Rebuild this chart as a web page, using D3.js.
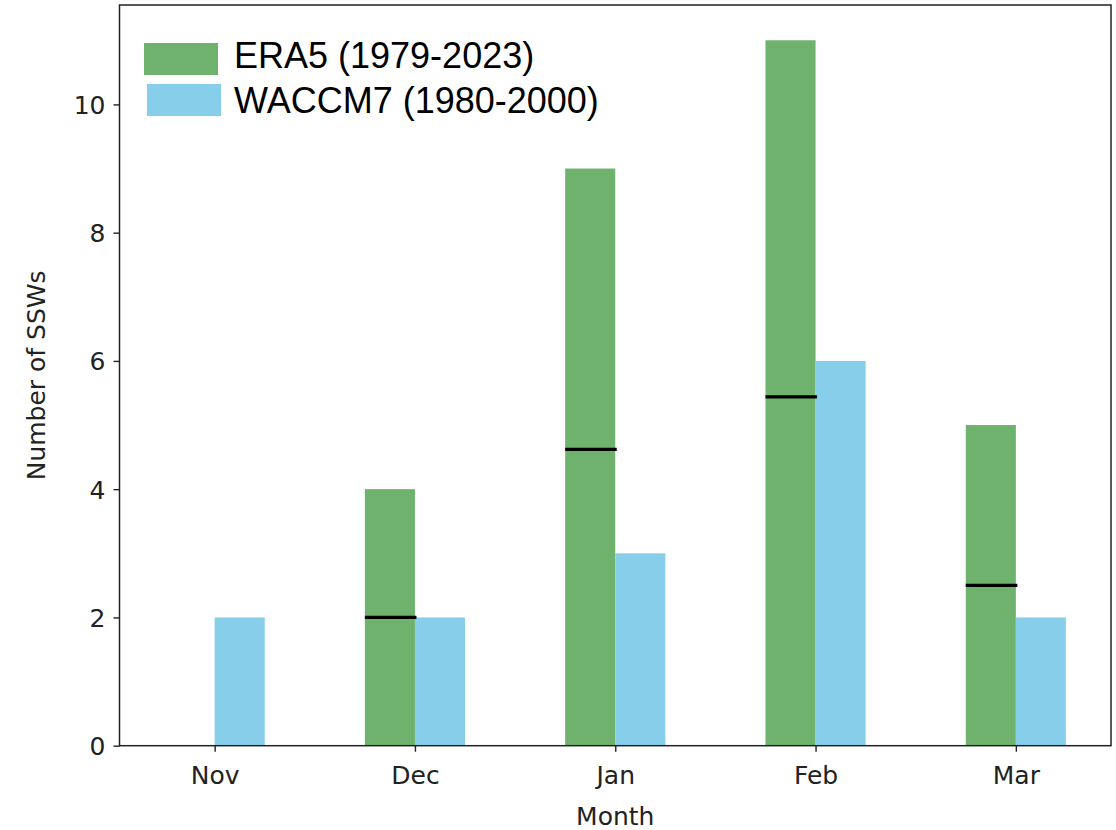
<!DOCTYPE html>
<html>
<head>
<meta charset="utf-8">
<script src="https://cdn.jsdelivr.net/npm/d3@7"></script>
<style>
  html, body { margin: 0; padding: 0; background: #fff; }
  svg { display: block; }
</style>
</head>
<body>
<svg id="chart" width="1116" height="830"></svg>
<script>
// Monthly counts of sudden stratospheric warmings
const months = ["Nov", "Dec", "Jan", "Feb", "Mar"];
const era5Counts = [0, 4, 9, 11, 5];
const waccmCounts = [2, 2, 3, 6, 2];
// Reference level marked on each ERA5 bar (none for Nov)
const era5Marks = [null, 2.0, 4.62, 5.44, 2.5];
const yTicks = [0, 2, 4, 6, 8, 10];
const seriesLabels = ["ERA5 (1979-2023)", "WACCM7 (1980-2000)"];
const seriesColors = ["#6eb26e", "#87ceeb"];

const svg = d3.select("#chart");
const plot = { left: 119.5, right: 1111, top: 5, bottom: 745.7 };
const barW = 0.25;

const x = d3.scaleLinear()
  .domain([-0.475, months.length - 1 + 0.475])
  .range([plot.left, plot.right]);
const y = d3.scaleLinear()
  .domain([0, d3.max(era5Counts) * 1.05])
  .range([plot.bottom, plot.top]);

const tickFont = "'DejaVu Sans', sans-serif";

// ERA5 bars sit left of the tick, WACCM7 bars right of it
svg.append("g").selectAll("rect")
  .data(era5Counts)
  .join("rect")
  .attr("x", (d, i) => x(i - barW))
  .attr("width", (d, i) => x(i) - x(i - barW))
  .attr("y", d => y(d))
  .attr("height", d => y(0) - y(d))
  .attr("fill", seriesColors[0]);

svg.append("g").selectAll("rect")
  .data(waccmCounts)
  .join("rect")
  .attr("x", (d, i) => x(i))
  .attr("width", (d, i) => x(i + barW) - x(i))
  .attr("y", d => y(d))
  .attr("height", d => y(0) - y(d))
  .attr("fill", seriesColors[1]);

// horizontal marks across the ERA5 bars
svg.append("g").selectAll("line")
  .data(era5Marks.map((v, i) => ({ v, i })).filter(d => d.v !== null))
  .join("line")
  .attr("x1", d => x(d.i - barW))
  .attr("x2", d => x(d.i) + 1.5)
  .attr("y1", d => y(d.v))
  .attr("y2", d => y(d.v))
  .attr("stroke", "#000")
  .attr("stroke-width", 3.2);

// axes
const axisColor = "#222";
const yAxis = svg.append("g")
  .attr("transform", `translate(${plot.left},0)`)
  .call(d3.axisLeft(y).tickValues(yTicks).tickSize(6).tickPadding(8).tickFormat(d3.format("d")));
const xAxis = svg.append("g")
  .attr("transform", `translate(0,${plot.bottom})`)
  .call(d3.axisBottom(x).tickValues(d3.range(months.length)).tickSize(6).tickPadding(14).tickFormat(i => months[i]));

[yAxis, xAxis].forEach(g => {
  g.select(".domain").remove();
  g.selectAll(".tick line").attr("stroke", axisColor).attr("stroke-width", 1.4);
  g.selectAll(".tick text")
    .attr("fill", "#222")
    .style("font-family", tickFont)
    .style("font-size", "25px");
});
yAxis.selectAll(".tick text").attr("dy", "0.36em");
xAxis.selectAll(".tick text").attr("dy", "0.75em");

// frame
svg.append("rect")
  .attr("x", plot.left)
  .attr("y", plot.top)
  .attr("width", plot.right - plot.left)
  .attr("height", plot.bottom - plot.top)
  .attr("fill", "none")
  .attr("stroke", axisColor)
  .attr("stroke-width", 1.5);

// axis titles
svg.append("text")
  .attr("x", (plot.left + plot.right) / 2)
  .attr("y", 825)
  .attr("text-anchor", "middle")
  .attr("fill", "#222")
  .style("font-family", tickFont)
  .style("font-size", "25px")
  .text("Month");

svg.append("text")
  .attr("transform", `translate(45,${(plot.top + plot.bottom) / 2}) rotate(-90)`)
  .attr("text-anchor", "middle")
  .attr("fill", "#222")
  .style("font-family", tickFont)
  .style("font-size", "25px")
  .text("Number of SSWs");

// legend
const legend = svg.append("g");
const legendRows = [
  { label: seriesLabels[0], color: seriesColors[0], px: 144, py: 43, ty: 68 },
  { label: seriesLabels[1], color: seriesColors[1], px: 147, py: 84, ty: 113 }
];
legendRows.forEach(r => {
  legend.append("rect")
    .attr("x", r.px).attr("y", r.py)
    .attr("width", 74).attr("height", 32)
    .attr("fill", r.color);
  legend.append("text")
    .attr("x", 234).attr("y", r.ty)
    .attr("fill", "#000")
    .style("font-family", "'Liberation Sans', Arial, sans-serif")
    .style("font-size", "36px")
    .text(r.label);
});
</script>
</body>
</html>
